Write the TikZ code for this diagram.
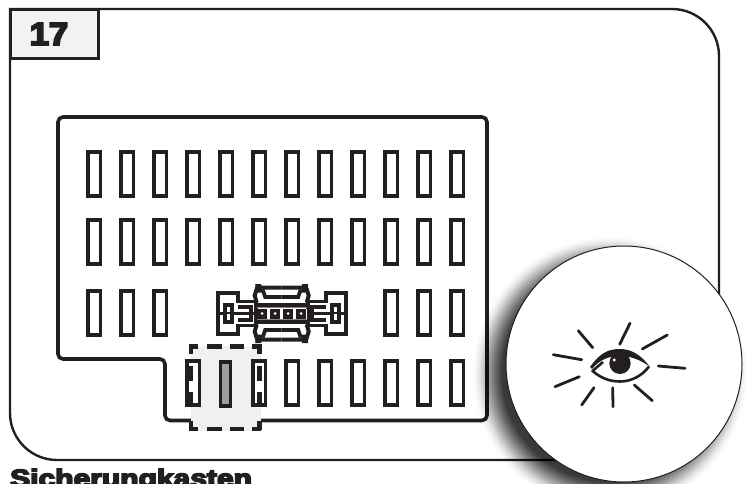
\documentclass[tikz,border=0pt]{standalone}
\usepackage{fontspec}
\setmainfont{Liberation Sans}
\newfontfamily\heavyfont[FakeBold=6]{Liberation Sans Bold}
\definecolor{ink}{HTML}{231F20}
\tikzset{
  fuse/.style={draw=ink,line width=3.8pt,fill=white,minimum width=12.5pt,minimum height=44pt,inner sep=0pt,anchor=north west,shape=rectangle},
  ray/.style={draw=ink,line width=2.8pt,line cap=round},
  hdash/.style={draw=ink,line width=4.6pt,dash pattern=on 9pt off 8.5pt on 15pt off 8pt on 14pt off 8.5pt on 9pt},
  vdash/.style={draw=ink,line width=4.6pt,dash pattern=on 10pt off 12pt on 15pt off 11pt on 14pt off 15pt on 9pt},
  conn/.style={draw=ink,line width=3.8pt,line join=miter},
  connthin/.style={draw=ink!55,line width=1pt}
}
\newcommand{\connquarter}{%
  \draw[conn,fill=white] (-64,0)--(-64,-20.5)--(-44,-20.5)--(-44,-12)--(-26,-12)--(-26,0)--cycle;
  \draw[conn,fill=white] (-57,0)--(-57,-8.5)--(-50,-8.5)--(-50,0);
  \draw[conn] (-44,-6.5)--(-30.5,-6.5)--(-30.5,0);
  \draw[conn,line width=4pt] (-25,-11)--(-27,-18)--(-24.5,-26)--(0,-26);
  \fill[ink] (-26.5,-29.5)--(-20.5,-29.5)--(-19,-21)--(-25,-21)--cycle;
  \draw[conn] (-19,-24)--(-16.5,-16.5)--(0,-16.5);
  \draw[conn] (-26,-8.5)--(0,-8.5);
  \draw[connthin] (-25,-6)--(0,-6);
}
\begin{document}
\begin{tikzpicture}[x=1pt,y=-1pt]
\useasboundingbox (0,0) rectangle (747,484);
\clip (0,0) rectangle (747,484);
\fill[white] (0,0) rectangle (747,484);
% outer frame
\draw[ink,line width=2.4pt] (10,9) [rounded corners=47pt] --(719,9)--(719,460)--(10,460) [sharp corners] -- cycle;
\node[draw=ink,line width=2.6pt,fill=black!5,minimum width=88pt,minimum height=49pt,inner sep=0pt,anchor=north west] (badge) at (9,8) {};
\node[anchor=base,inner sep=0pt,text=ink,xscale=1.08] (num) at (49,45) {\heavyfont\fontsize{32}{32}\selectfont 17};
% panel
\draw[ink,line width=3.6pt,rounded corners=5pt,fill=white] (58,117)--(487,117)--(487,420.5)--(165,420.5)--(165,359)--(58,359)--cycle;
% highlight
\fill[black!6] (191,346) rectangle (261,431);
% fuses
\foreach \r/\yy in {1/150,2/218,3/289}{
  \foreach \n in {0,...,11}{
    \pgfmathsetmacro{\xx}{86+33*\n}
    \ifnum\r=3
      \ifnum\n>2 \ifnum\n<9 \else \node[fuse] (f\r-\n) at (\xx,\yy) {};\fi
      \else \node[fuse] (f\r-\n) at (\xx,\yy) {};\fi
    \else
      \node[fuse] (f\r-\n) at (\xx,\yy) {};
    \fi
  }
}
\foreach \n in {3,5,6,7,8,9,10,11}{
  \pgfmathsetmacro{\xx}{86+33*\n}
  \node[fuse] (f4-\n) at (\xx,359) {};
}
\node[fuse,fill=black!38,minimum width=10pt,minimum height=44pt] (f4-4) at (218.5,360) {};
% dashed highlight frame
\draw[hdash] (189,346.5)--(263,346.5);
\draw[hdash] (189,429)--(263,429);
\draw[vdash] (191,344)--(191,431);
\draw[vdash] (259.5,344)--(259.5,431);
% connector
\begin{scope}[shift={(281.7,313.5)}]
  \connquarter
  \begin{scope}[xscale=-1]\connquarter\end{scope}
  \begin{scope}[yscale=-1]\connquarter\end{scope}
  \begin{scope}[xscale=-1,yscale=-1]\connquarter\end{scope}
  \fill[white] (-25,-5) rectangle (25,5);
  \foreach \p in {-19.5,-6.5,6.5,19.5}{
    \fill[ink] (\p-5,-5) rectangle (\p+5,5);
    \fill[white] (\p,0) circle (1.5);
  }
\end{scope}
% magnifier shadow
\foreach \i in {0,...,30}{
  \pgfmathsetmacro{\rr}{138-\i}
  \pgfmathsetmacro{\op}{0.004+0.0026*\i}
  \fill[black,opacity=\op] (610,374) circle (\rr);
}
\fill[white] (624,364) circle (118);
\draw[ink,line width=1pt] (624,364) circle (118);
% eye
\draw[ray] (578.3,330.7)--(592.7,347.7);
\draw[ray] (630,323.3)--(619.7,344.3);
\draw[ray] (667.3,335)--(642.3,349);
\draw[ray] (658.3,366)--(685,368.3);
\draw[ray] (634.3,385)--(652.3,400.7);
\draw[ray] (612.7,387.7)--(613,406.7);
\draw[ray] (594,387.7)--(581.7,405);
\draw[ray] (579.3,376.7)--(555,386.7);
\draw[ray] (581.7,359.7)--(553.3,354.7);
\fill[ink] (590,367) .. controls (600,353) and (608,349) .. (620,349) .. controls (632,349) and (642,356) .. (649.5,366.5) .. controls (642,361) and (632,356) .. (620,356) .. controls (610,356) and (600,359) .. (592,369) -- cycle;
\draw[ink,line width=2.6pt,line join=round] (603,362)--(592.5,371) .. controls (602,379) and (611,381.5) .. (620,381.5) .. controls (631,381.5) and (642,376) .. (649,366.5);
\fill[ink] (620,363.3) circle (10.7);
\fill[white] (614.3,360) circle (1.6);
% caption
\node[anchor=base west,inner sep=0pt,text=ink,xscale=1.2] (cap) at (10,487) {\heavyfont\fontsize{25}{25}\selectfont Sicherungkasten};
\end{tikzpicture}
\end{document}
